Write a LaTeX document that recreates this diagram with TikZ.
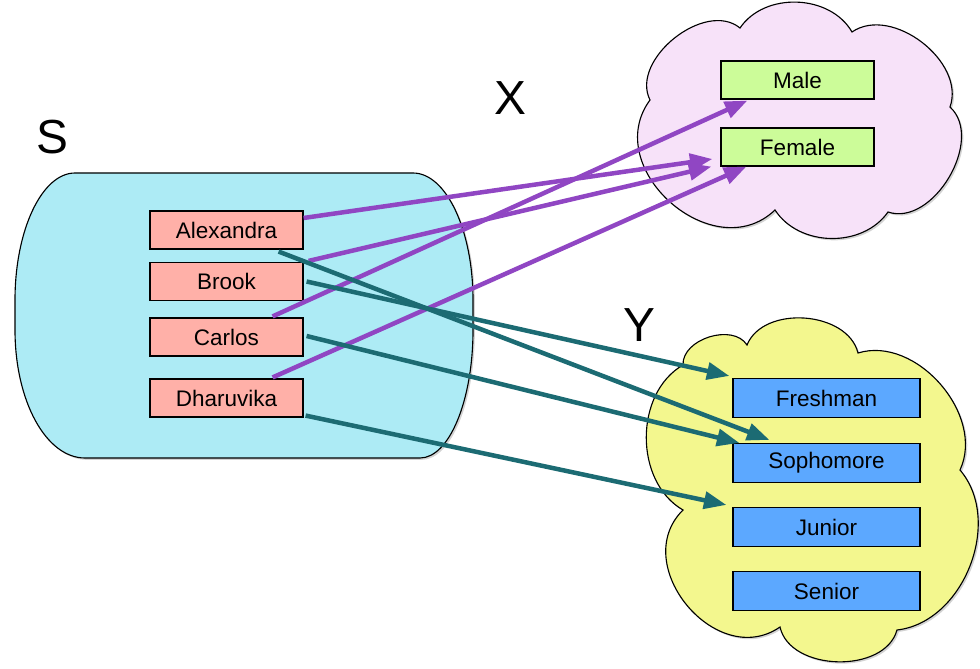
\documentclass[tikz,border=0pt]{standalone}
\usepackage{fontspec}
\setmainfont{Liberation Sans}
\usetikzlibrary{arrows.meta, calc, shadows}
\definecolor{setfill}{HTML}{ADEBF5}
\definecolor{namefill}{HTML}{FFB0A8}
\definecolor{xfill}{HTML}{F7E2F9}
\definecolor{gfill}{HTML}{CCFC99}
\definecolor{yfill}{HTML}{F3F78E}
\definecolor{cfill}{HTML}{5CA8FF}
\definecolor{xarr}{HTML}{9046C3}
\definecolor{yarr}{HTML}{1C6B73}

\begin{document}
\begin{tikzpicture}[x=0.025cm,y=-0.025cm,font=\fontsize{16}{19}\selectfont,
    box/.style={draw,line width=0.8pt,inner sep=0pt,minimum width=3.825cm,minimum height=0.95cm,align=center},
    wbox/.style={box,minimum width=4.675cm,minimum height=0.975cm},
    big/.style={font=\fontsize{34}{40}\selectfont},
    blob/.style={draw,line width=0.8pt,drop shadow={opacity=0.35,shadow xshift=1.3pt,shadow yshift=-1.3pt}},
    arr/.style={-{Triangle[length=16pt,width=12pt]},line width=3.2pt}]
    \useasboundingbox (0,0) rectangle (980,669);
    % the set S and the two clouds
    \path[blob,fill=setfill] (75,173) -- (413,173) .. controls (446,173) and (473,230) .. (473,300)
      -- (473,330) .. controls (473,401) and (449,458) .. (420,458) -- (85,458)
      .. controls (46,458) and (15,401) .. (15,330) -- (15,300) .. controls (15,230) and (42,173) .. (75,173) -- cycle;
    \path[blob,fill=xfill] (650,100) to[bend left=78] (740,28) to[bend left=58] (852,32)
      to[bend left=72] (950,107) to[bend left=78] (888,212) to[bend left=56] (775,210)
      to[bend left=85,looseness=1.3] (650,100) -- cycle;
    \path[blob,fill=yfill] (683,510) to[bend left=60] (683,365) to[bend left=75] (747,345)
      to[bend left=72] (858,353) to[bend left=66] (960,470) to[bend left=62] (897,630)
      to[bend left=76] (780,627) to[bend left=85,looseness=1.3] (683,510) -- cycle;
    \node[big] (ls) at (52,137) {S};
    \node[big] (lx) at (510,98) {X};
    \node[big] (ly) at (639,325) {Y};
    % elements of S
    \node[box,fill=namefill] (n1) at (226.5,230) {Alexandra};
    \node[box,fill=namefill] (n2) at (226.5,281.5) {Brook};
    \node[box,fill=namefill] (n3) at (226.5,337) {Carlos};
    \node[box,fill=namefill] (n4) at (226.5,398) {Dharuvika};
    % elements of X
    \node[box,fill=gfill] (g1) at (797.5,80) {Male};
    \node[box,fill=gfill] (g2) at (797.5,147) {Female};
    % elements of Y
    \node[wbox,fill=cfill] (c1) at (826.5,398) {Freshman};
    \node[wbox,fill=cfill] (c2) at (826.5,463) {Sophomore};
    \node[wbox,fill=cfill] (c3) at (826.5,527) {Junior};
    \node[wbox,fill=cfill] (c4) at (826.5,591) {Senior};
    % S -> X
    \draw[arr,xarr] ($(n1.east)+(0,-12)$) -- ($(g2.west)+(-8,12)$);
    \draw[arr,xarr] ($(n2.north east)+(5,-1)$) -- ($(g2.south west)+(-9,0)$);
    \draw[arr,xarr] ($(n3.north east)+(-31,-1)$) -- ($(g1.south west)+(27,1)$);
    \draw[arr,xarr] ($(n4.north east)+(-31,-1)$) -- ($(g2.south west)+(26,0)$);
    % S -> Y
    \draw[arr,yarr] ($(n1.south east)+(-25,2)$) -- ($(c2.north west)+(37,-3)$);
    \draw[arr,yarr] ($(n2.east)+(3,0)$) -- ($(c1.north west)+(-3,-2)$);
    \draw[arr,yarr] ($(n3.east)+(3,-1)$) -- ($(c2.north west)+(7,0)$);
    \draw[arr,yarr] ($(n4.south east)+(2,-2)$) -- ($(c3.north west)+(-6,-2)$);
\end{tikzpicture}
\end{document}
